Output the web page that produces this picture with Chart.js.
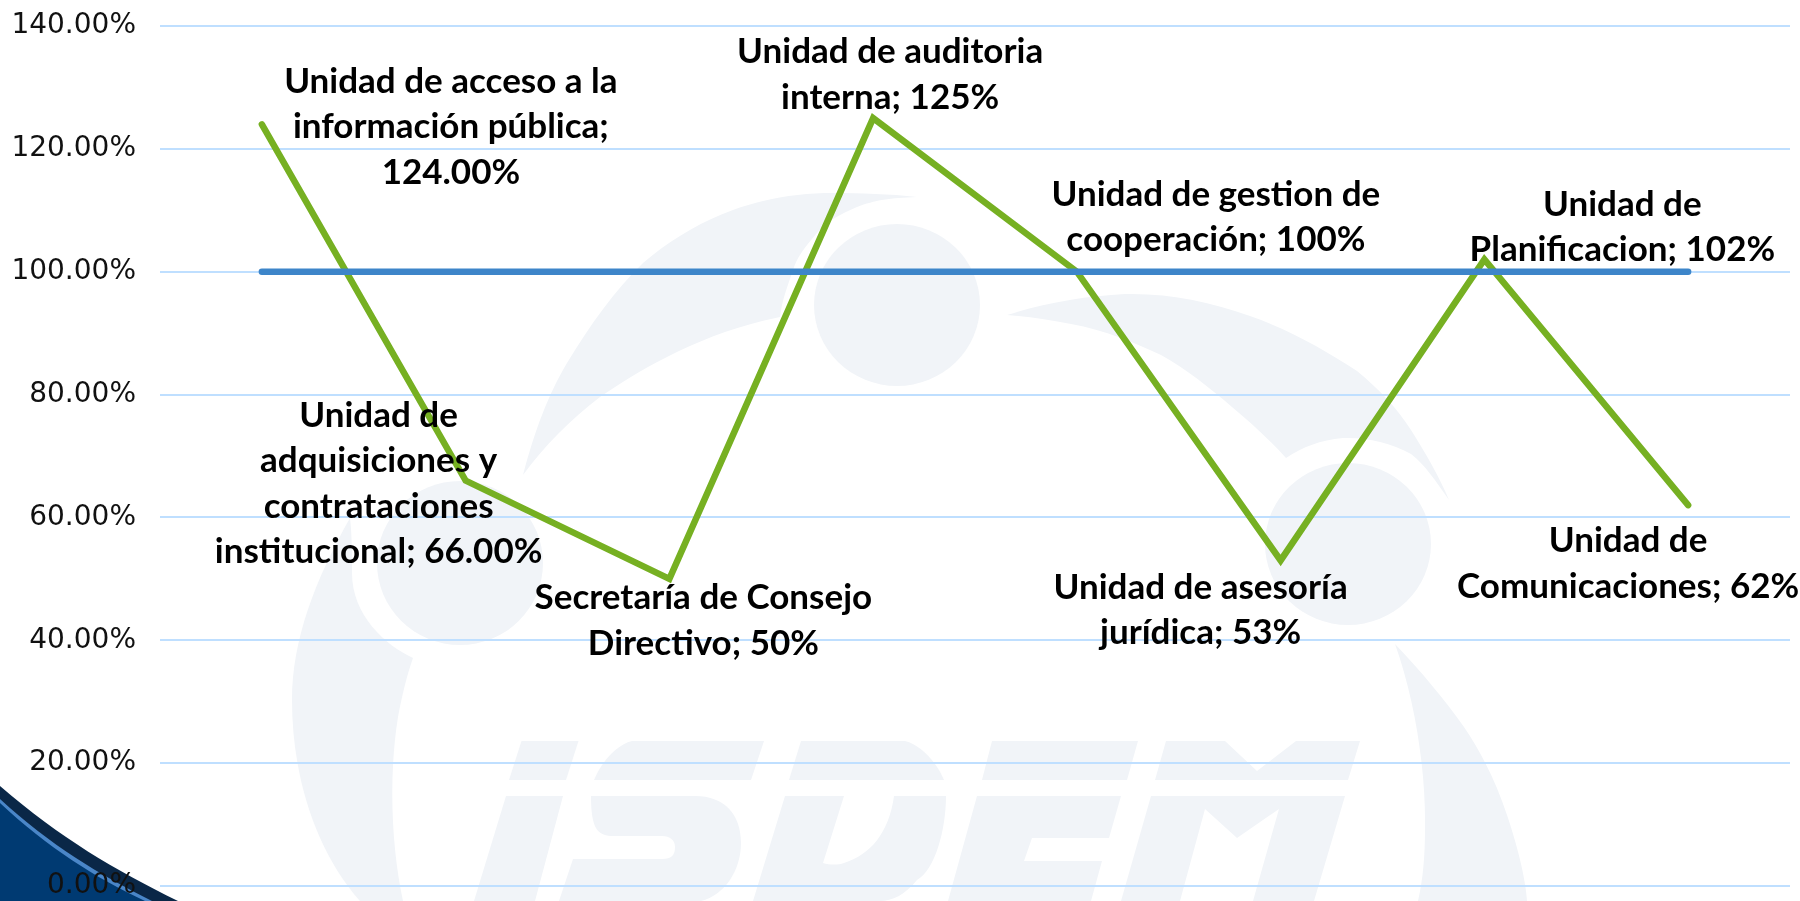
<!DOCTYPE html>
<html lang="es">
<head>
<meta charset="utf-8">
<title>Cumplimiento por unidad</title>
<script src="https://cdn.jsdelivr.net/npm/chart.js@4"></script>
<style>
html,body{margin:0;padding:0;background:#fff;width:1800px;height:901px;overflow:hidden}
#bg{position:absolute;left:0;top:0}
#c{position:absolute;left:0;top:0}
</style>
</head>
<body>
<svg id="bg" width="1800" height="901" viewBox="0 0 1800 901" xmlns="http://www.w3.org/2000/svg">
  <g fill="#f1f4f8">
    <path d="M523 475 C535 430 548 395 567 363 C590 325 615 290 643 263 C670 240 700 222 733 210 C765 198 800 193 833 193 C860 193 890 194 917 197 C890 198 875 200 857 207 C840 214 826 222 817 233 C805 247 797 257 793 270 C788 285 782 300 780 317 C740 325 700 340 667 357 C640 370 620 384 600 397 C570 420 545 445 523 475Z"/>
    <ellipse cx="897" cy="305" rx="83" ry="81"/>
    <path d="M1007 315 C1045 303 1085 296 1125 294 C1170 293 1210 302 1250 316 C1290 330 1325 350 1357 371 C1380 390 1397 408 1411 430 C1425 452 1440 478 1449 500 C1435 480 1425 465 1411 454 C1390 442 1365 437 1343 438 C1320 440 1303 447 1286 458 C1270 440 1250 422 1232 407 C1210 388 1185 368 1161 355 C1135 343 1105 330 1071 324 C1050 320 1030 317 1007 315Z"/>
    <ellipse cx="1348" cy="544" rx="83" ry="81"/>
    <ellipse cx="460" cy="563" rx="83" ry="82"/>
    <path d="M350 518 C315 580 292 640 292 700 C292 775 315 850 360 901 L403 901 C392 850 388 780 398 717 C402 695 407 675 413 658 C385 645 352 615 352 573 C352 555 352 535 350 518Z"/>
    <path d="M1395 644 C1420 670 1445 700 1464 727 C1483 755 1497 785 1507 815 C1517 845 1525 875 1527 901 L1418 901 C1423 880 1425 855 1425 830 C1426 770 1415 700 1395 644Z"/>
    <path d="M521.5 741 L578.5 741 L566 780 L509 780Z"/>
    <path d="M506 796 L563 796 L535 901 L474 901Z"/>
    <path d="M632 741 L764 741 L751 780 L594 780 C600 765 615 745 632 741Z"/>
    <path d="M591 796 L695 796 C725 796 741 815 741 843 C741 870 725 895 701 901 L559 901 L573 859 L662 859 C672 859 675 855 675 847 C675 840 670 836 662 836 L614 836 C598 836 591 830 591 796Z"/>
    <path d="M801 741 L905 741 C922 745 938 765 944 780 L789 780Z"/>
    <path d="M785 796 L844 796 L823 863 C830 865 838 865 844 863 C870 855 889 833 894 796 L946 796 C946 830 935 870 917 880 C905 895 892 901 880 901 L753 901Z"/>
    <path d="M992 741 L1138 741 L1127 780 L982 780Z"/>
    <path d="M977 796 L1121 796 L1109 838 L1032 838 L1024 861 L1102 861 L1091 901 L948 901Z"/>
    <path d="M1166 741 L1225 741 L1257 771 L1296 741 L1360 741 L1348 780 L1155 780Z"/>
    <path d="M1151 796 L1345 796 L1314 901 L1253 901 L1279 809 L1237 838 L1205 809 L1180 901 L1121 901Z"/>
  </g>
  <path d="M0 786 C60 838 115 870 178 901 L0 901Z" fill="#0a2747"/>
  <path d="M0 799 C50 845 100 875 152 901 L0 901Z" fill="#4a86c8"/>
  <path d="M0 803 C48 848 96 878 145 901 L0 901Z" fill="#003a72"/>
</svg>
<canvas id="c" width="1800" height="901"></canvas>
<script>
const categories = [
  "Unidad de acceso a la información pública",
  "Unidad de adquisiciones y contrataciones institucional",
  "Secretaría de Consejo Directivo",
  "Unidad de auditoria interna",
  "Unidad de gestion de cooperación",
  "Unidad de asesoría jurídica",
  "Unidad de Planificacion",
  "Unidad de Comunicaciones"
];
const resultValues = [124, 66, 50, 125, 100, 53, 102, 62];
const goalValues = [100, 100, 100, 100, 100, 100, 100, 100];
const labelLines = [
  ["Unidad de acceso a la", "información pública;", "124.00%"],
  ["Unidad de", "adquisiciones y", "contrataciones", "institucional; 66.00%"],
  ["Secretaría de Consejo", "Directivo; 50%"],
  ["Unidad de auditoria", "interna; 125%"],
  ["Unidad de gestion de", "cooperación; 100%"],
  ["Unidad de asesoría", "jurídica; 53%"],
  ["Unidad de", "Planificacion; 102%"],
  ["Unidad de", "Comunicaciones; 62%"]
];
const labelOffsets = [
  [189, -43], [-87, -65], [34, 19], [17, -66],
  [139, -77], [-80, 27], [138, -55], [-60, 36]
];

const dataLabels = {
  id: "dataLabels",
  afterDatasetsDraw(chart) {
    const ctx = chart.ctx;
    const points = chart.getDatasetMeta(1).data;
    ctx.save();
    ctx.font = 'bold 35px Lato, "Open Sans", sans-serif';
    ctx.fillStyle = "#000";
    ctx.textAlign = "center";
    ctx.textBaseline = "middle";
    points.forEach((p, i) => {
      const [dx, dy] = labelOffsets[i];
      labelLines[i].forEach((line, j) => {
        ctx.fillText(line, p.x + dx, p.y + dy + j * 45.5);
      });
    });
    ctx.restore();
  }
};

new Chart(document.getElementById("c"), {
  type: "line",
  data: {
    labels: categories,
    datasets: [
      { label: "Meta", data: goalValues, borderColor: "#3d85c9", borderWidth: 6.5,
        pointRadius: 0, borderCapStyle: "round", tension: 0 },
      { label: "Resultado", data: resultValues, borderColor: "#76b022", borderWidth: 6.5,
        pointRadius: 0, borderCapStyle: "round", borderJoinStyle: "miter", tension: 0 }
    ]
  },
  options: {
    responsive: false,
    animation: false,
    devicePixelRatio: 1,
    layout: { padding: { top: 26, right: 10, bottom: 15, left: 0 } },
    plugins: { legend: { display: false }, tooltip: { enabled: false }, title: { display: false } },
    scales: {
      x: { display: false, offset: true },
      y: {
        min: 0, max: 140,
        afterFit(axis) { axis.width = 160; axis.paddingTop = 0; axis.paddingBottom = 0; },
        border: { display: false },
        grid: { color: "#bfdfff", lineWidth: 2, drawTicks: false },
        ticks: {
          stepSize: 20, padding: 24, color: "#111",
          font: { family: '"DejaVu Sans"', size: 28 },
          callback: v => v.toFixed(2) + "%"
        }
      }
    }
  },
  plugins: [dataLabels]
});
</script>
</body>
</html>
